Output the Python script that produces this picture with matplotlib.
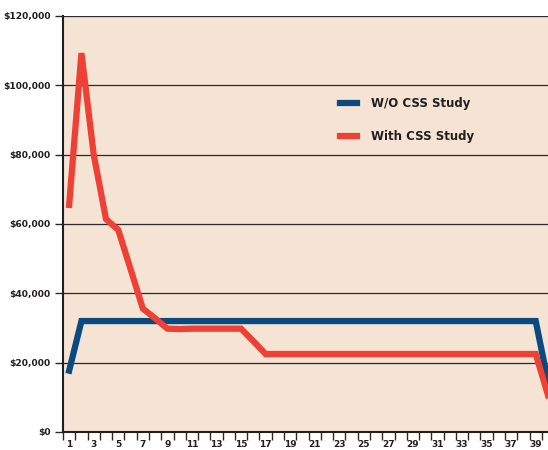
import matplotlib.pyplot as plt
from matplotlib.ticker import FuncFormatter, MultipleLocator

# Dados
periodos = list(range(1, 41))
sem_css = [17700] + [32000] * 38 + [14500]
com_css = [65500, 109300, 80000, 61400, 58300, 47000, 35600, 32800, 29800, 29700,
           29800, 29800, 29800, 29800, 29800, 26200] + [22500] * 23 + [10600]
rotulos = ["W/O CSS Study", "With CSS Study"]
cores = ["#0b4a80", "#ee4035"]

fig = plt.figure(figsize=(5.48, 4.5), dpi=100)
ax = fig.add_axes([0.115, 0.04, 0.885, 0.9245])
ax.set_facecolor("#f5e3d3")

ax.plot(periodos, sem_css, color=cores[0], lw=4.5, label=rotulos[0], solid_joinstyle="miter")
ax.plot(periodos, com_css, color=cores[1], lw=4.5, label=rotulos[1], solid_joinstyle="miter")

ax.set_ylim(0, 120000)
ax.set_xlim(0.5, 40.0)
ax.yaxis.set_major_locator(MultipleLocator(20000))
ax.yaxis.set_major_formatter(FuncFormatter(lambda v, p: "${:,.0f}".format(v)))
ax.grid(axis="y", color="#2a2a2a", lw=0.9)
ax.set_axisbelow(True)

# eixo x: rótulos nos ímpares, marcas entre categorias
ax.set_xticks(range(1, 41, 2))
ax.set_xticklabels([str(i) for i in range(1, 41, 2)])
ax.set_xticks([i + 0.5 for i in range(0, 40)], minor=True)
ax.tick_params(axis="x", which="major", length=0, pad=6)
ax.tick_params(axis="x", which="minor", length=6, width=1, color="#2a2a2a")
ax.tick_params(axis="y", length=6, width=1, color="#2a2a2a", pad=3)

for lab in ax.get_xticklabels():
    lab.set_fontweight("bold")
    lab.set_fontsize(6.5)
    lab.set_color("#231f20")
for lab in ax.get_yticklabels():
    lab.set_fontweight("bold")
    lab.set_fontsize(6.6)
    lab.set_color("#231f20")

for s in ["top", "right"]:
    ax.spines[s].set_visible(False)
ax.spines["left"].set_linewidth(1.5)
ax.spines["bottom"].set_linewidth(1.5)
ax.spines["left"].set_color("#231f20")
ax.spines["bottom"].set_color("#231f20")

leg = ax.legend(loc="upper left", bbox_to_anchor=(0.55, 0.83), frameon=False,
                handlelength=1.4, labelspacing=1.7, handletextpad=1.2,
                prop={"weight": "bold", "size": 8.5})
for t in leg.get_texts():
    t.set_color("#231f20")

fig.savefig("out.png", dpi=100)
